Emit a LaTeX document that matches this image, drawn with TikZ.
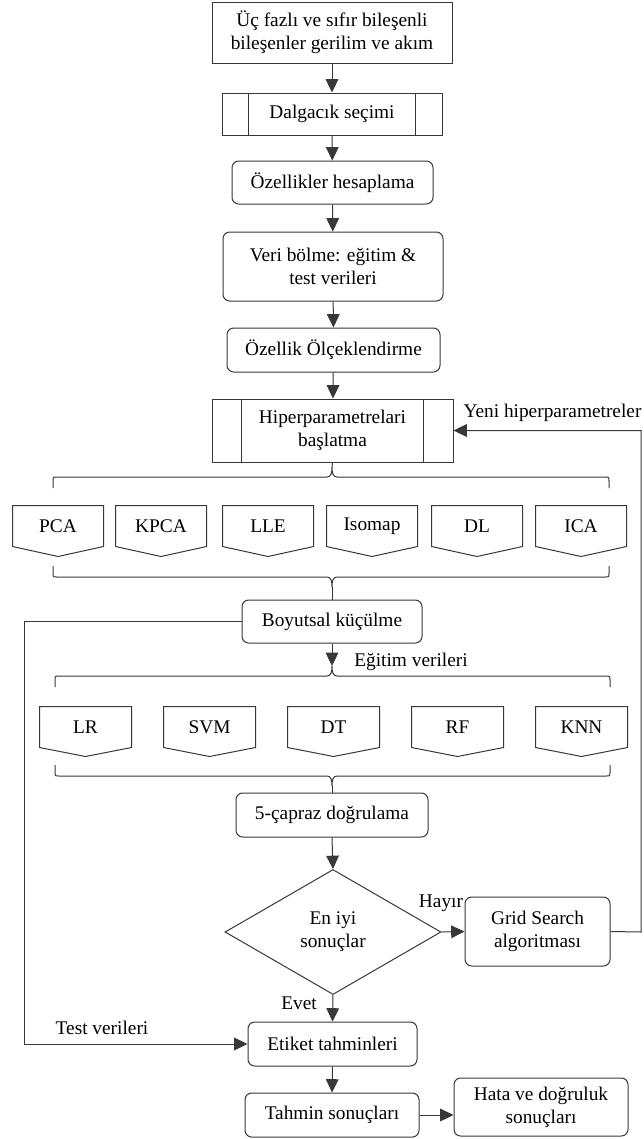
\documentclass[tikz,border=0pt]{standalone}
\usepackage{fontspec}
\setmainfont{Liberation Serif}
\usetikzlibrary{arrows.meta,shapes.geometric,calc}

\definecolor{linec}{gray}{0.22}

% outline of a tag shape: rectangle with a pointed bottom edge
\newcommand\tagoutline[2]{%
  \draw[conn] (#1.north west) -- (#1.north east) -- (#1.south east)
    -- ($(#1.south)+(0,#2)$) -- (#1.south west) -- cycle;}

% curly bracket: #1 left x, #2 right x, #3 middle x, #4 bar y, #5 hook direction
\newcommand\drawbracket[5]{%
  \pgfmathsetmacro\bkA{#4+11*(#5)}%
  \pgfmathsetmacro\bkB{#4+4*(#5)}%
  \pgfmathsetmacro\bkC{#4-4*(#5)}%
  \pgfmathsetmacro\bkD{#4-10*(#5)}%
  \draw[conn] (#1,\bkA) -- (#1,\bkB) .. controls (#1,#4) .. ({#1+4},#4)
    -- ({#3-5},#4) .. controls ({#3-1},#4) and (#3,\bkC) .. (#3,\bkD)
    .. controls (#3,\bkC) and ({#3+1},#4) .. ({#3+5},#4)
    -- ({#2-4},#4) .. controls (#2,#4) .. (#2,\bkB) -- (#2,\bkA);}

\begin{document}
\begin{tikzpicture}[x=0.75pt,y=-0.75pt,
  font=\fontsize{14.5}{17.25}\selectfont,
  line width=0.75pt,
  base/.style={inner sep=0pt, align=center, text=black},
  plainbox/.style={base, draw=linec, rectangle},
  roundbox/.style={plainbox, rounded corners=5pt},
  tagbox/.style={base, rectangle, minimum height=30pt},
  conn/.style={draw=linec},
  arr/.style={draw=linec, -{Triangle[length=10pt,width=9.5pt]}},
  lbl/.style={inner sep=0pt, text=black}]

\useasboundingbox (0,0) rectangle (643,1139);
\fill[white] (0,0) rectangle (643,1139);

% main column
\node[plainbox, minimum width=180pt, minimum height=45.75pt] (b1) at (332,32.5)
  {Üç fazlı ve sıfır bileşenli\\bileşenler gerilim ve akım};
\node[plainbox, minimum width=165pt, minimum height=31.5pt] (b2) at (332,114)
  {Dalgacık seçimi};
\draw[conn] ([xshift=20pt]b2.north west) -- ([xshift=20pt]b2.south west);
\draw[conn] ([xshift=-20pt]b2.north east) -- ([xshift=-20pt]b2.south east);
\node[roundbox, minimum width=150.75pt, minimum height=32.25pt] (b3) at (332.5,182.5)
  {Özellikler hesaplama};
\node[roundbox, minimum width=165pt, minimum height=51.75pt] (b4) at (333,266.5)
  {Veri bölme: eğitim \&\\test verileri};
\node[roundbox, minimum width=159.75pt, minimum height=33pt] (b5) at (333.5,350)
  {Özellik Ölçeklendirme};
\node[plainbox, minimum width=180.75pt, minimum height=47.25pt] (b6) at (332.5,430.5)
  {Hiperparametrelari\\başlatma};
\draw[conn] ([xshift=22.5pt]b6.north west) -- ([xshift=22.5pt]b6.south west);
\draw[conn] ([xshift=-22.5pt]b6.north east) -- ([xshift=-22.5pt]b6.south east);

\draw[arr] (b1) -- (b2);
\draw[arr] (b2) -- (b3);
\draw[arr] (b3) -- (b4);
\draw[arr] (b4) -- (b5);
\draw[arr] (b5) -- (b6);

% dimensionality reduction methods
\drawbracket{53}{609}{332}{477}{1}
\coordinate (br1) at (332,467);
\draw[conn] (b6.south) -- (br1);
\foreach \nm/\cx/\tx in {pca/58/PCA, kpca/161/KPCA, lle/268/LLE,
                         iso/372/Isomap, dl/477/DL, ica/581/ICA}{
  \node[tagbox, minimum width=67.5pt] (\nm) at (\cx,526) {\tx};
  \tagoutline{\nm}{10}
}
\drawbracket{53}{609}{332}{577}{-1}
\coordinate (br2) at (332,587);

\node[roundbox, minimum width=135pt, minimum height=32.25pt] (boy) at (332,621.5)
  {Boyutsal küçülme};
\draw[conn] (br2) -- (boy.north);

% classifiers
\drawbracket{55}{610}{332}{676}{1}
\coordinate (br3) at (332,666);
\draw[arr] (boy.south) -- (br3);
\node[lbl] (egt) at (411,662) {Eğitim verileri};
\foreach \nm/\cx/\tx in {lr/85.5/LR, svm/209.5/SVM, dt/333.5/DT,
                         rf/457.5/RF, knn/581.5/KNN}{
  \node[tagbox, minimum width=68.25pt] (\nm) at (\cx,727) {\tx};
  \tagoutline{\nm}{9}
}
\drawbracket{55}{610}{332}{776}{-1}
\coordinate (br4) at (332,786);

\node[roundbox, minimum width=144pt, minimum height=33pt] (cv) at (332,815)
  {5-çapraz doğrulama};
\draw[conn] (br4) -- (cv.north);

% decision and search loop
\node[diamond, draw=linec, base, aspect=1.73, minimum width=162pt, minimum height=93.75pt]
  (dec) at (333,932) {En iyi\\sonuçlar};
\draw[arr] (cv.south) -- (dec.north);

\node[roundbox, minimum width=108.75pt, minimum height=51.75pt] (grid) at (537.5,931.5)
  {Grid Search\\algoritması};
\draw[arr] (dec.east) -- (grid.west);
\node[lbl] (hyr) at (441,903) {Hayır};

\coordinate (fbk) at (641,932);
\draw[arr] (grid.east) -- (fbk) |- (b6.east);
\node[lbl] (yeni) at (552.5,413) {Yeni hiperparametreler};

% prediction
\node[roundbox, minimum width=126.75pt, minimum height=33pt] (etk) at (332.5,1044)
  {Etiket tahminleri};
\draw[arr] (dec.south) -- (etk.north);
\node[lbl] (evt) at (299,1003) {Evet};

\coordinate (tst) at (24,621.5);
\draw[arr] (boy.west) -- (tst) |- (etk.west);
\node[lbl] (tv) at (102,1028) {Test verileri};

\node[roundbox, minimum width=130.5pt, minimum height=33pt] (thm) at (332,1115)
  {Tahmin sonuçları};
\draw[arr] (etk.south) -- (thm.north);

\node[roundbox, minimum width=130.5pt, minimum height=43.5pt] (hata) at (541,1107)
  {Hata ve doğruluk\\sonuçları};
\draw[arr] (thm.east) -- (thm.east -| hata.west);
\end{tikzpicture}
\end{document}
